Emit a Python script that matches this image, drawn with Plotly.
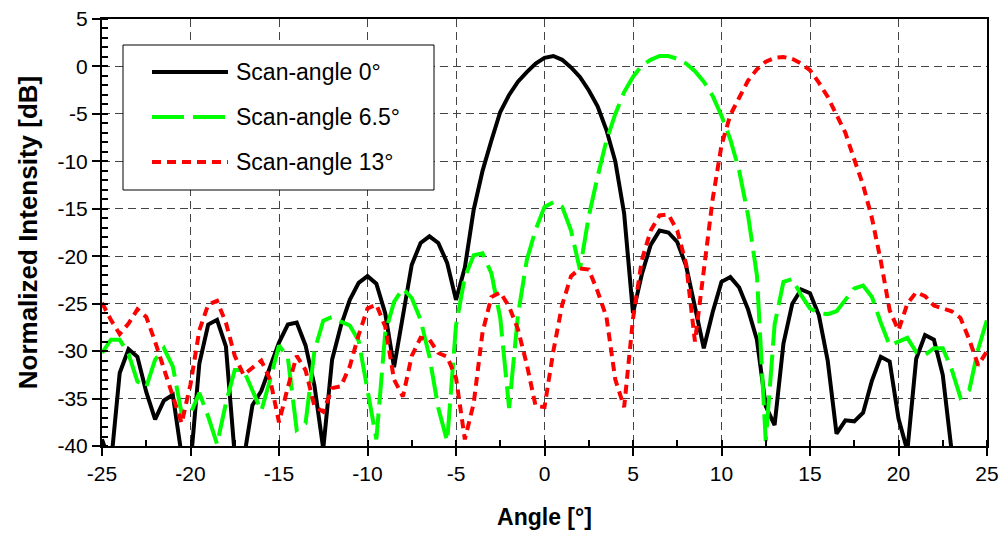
import numpy as np
import plotly.graph_objects as go

# Sampling grid of the angular scan (degrees)
angle_deg = np.arange(-25, 25.01, 0.5)

# Normalized intensity [dB] for each steering angle, one value per 0.5 deg
scan_0 = [
    -39.3, -42.0, -32.3, -29.8, -30.6, -34.3, -37.2, -35.2, -34.6, -41.0,
    -42.0, -31.3, -27.2, -26.7, -29.5, -41.0, -41.5, -35.7, -34.2, -31.6,
    -29.1, -27.2, -27.0, -29.4, -33.6, -40.3, -30.9, -27.3, -24.6, -22.8,
    -22.1, -22.9, -26.0, -31.7, -26.0, -20.9, -18.6, -17.9, -18.6, -20.7,
    -24.6, -21.2, -15.1, -11.0, -7.8, -4.8, -3.0, -1.6, -0.6, 0.3,
    0.9, 1.1, 0.7, -0.1, -1.1, -2.5, -4.2, -6.7, -10.0, -15.5,
    -26.0, -21.9, -18.8, -17.3, -17.5, -18.5, -21.0, -25.3, -29.7, -25.9,
    -22.7, -22.2, -23.3, -25.6, -28.8, -35.8, -37.8, -29.2, -25.0, -23.5,
    -23.9, -26.2, -31.0, -38.7, -37.3, -37.4, -36.5, -33.1, -30.6, -31.1,
    -37.1, -40.5, -30.8, -28.3, -28.8, -32.5, -40.5, -43.0, -43.0, -43.0,
    -43.0,
]

scan_6_5 = [
    -30.2, -28.8, -28.8, -30.3, -33.2, -33.8, -30.9, -29.7, -31.6, -36.6,
    -36.6, -34.4, -36.9, -39.8, -35.5, -32.0, -32.0, -34.2, -36.3, -33.0,
    -29.4, -30.7, -38.3, -37.6, -30.0, -26.8, -26.4, -26.9, -27.3, -28.9,
    -34.0, -39.3, -28.1, -24.8, -23.4, -24.4, -26.7, -30.6, -36.0, -39.5,
    -27.3, -22.2, -19.9, -19.7, -21.8, -26.5, -36.0, -26.2, -20.4, -17.2,
    -14.8, -14.3, -14.8, -17.3, -21.4, -15.8, -11.6, -7.8, -5.0, -2.7,
    -1.1, 0.1, 0.7, 1.1, 1.1, 0.8, 0.3, -0.5, -1.6, -3.1,
    -5.2, -7.7, -11.0, -15.7, -22.0, -39.5, -27.2, -22.7, -22.4, -24.1,
    -25.5, -26.0, -26.1, -25.8, -24.6, -23.4, -23.1, -24.3, -27.0, -29.4,
    -29.0, -28.6, -30.1, -30.4, -29.7, -29.7, -31.9, -34.9, -34.1, -29.8,
    -26.7,
]

scan_13 = [
    -24.9, -26.7, -28.2, -27.1, -25.6, -26.4, -29.0, -31.8, -34.6, -37.6,
    -33.5, -27.8, -25.1, -24.7, -27.0, -30.5, -32.5, -31.8, -31.0, -33.0,
    -37.5, -33.8, -30.5, -32.0, -35.8, -36.4, -33.9, -33.7, -31.6, -28.3,
    -25.5, -25.1, -27.4, -33.0, -34.8, -30.5, -28.6, -28.8, -30.2, -30.6,
    -32.8, -39.3, -35.5, -28.0, -24.3, -23.8, -25.3, -27.7, -31.4, -35.8,
    -35.9, -30.0, -25.1, -22.1, -21.3, -21.4, -23.7, -26.4, -33.0, -35.9,
    -26.6, -20.4, -17.3, -15.7, -15.6, -17.3, -20.8, -29.0, -21.4, -14.0,
    -8.3, -5.1, -3.3, -1.5, -0.3, 0.5, 0.9, 1.0, 0.8, 0.3,
    -0.4, -1.7, -3.2, -5.0, -7.0, -9.8, -12.5, -16.0, -20.5, -25.7,
    -27.8, -25.0, -23.8, -24.2, -25.2, -25.5, -25.8, -26.5, -28.8, -31.5,
    -30.0,
]

series_names = ["Scan-angle 0°", "Scan-angle 6.5°", "Scan-angle 13°"]
series_values = [scan_0, scan_6_5, scan_13]
series_colors = ["#000000", "#00FF00", "#FF0000"]
series_dashes = ["solid", "32px,9px", "9px,6px"]

x_ticks = list(range(-25, 26, 5))
x_tick_labels = [str(v) for v in x_ticks]
y_ticks = list(range(-40, 6, 5))
y_tick_labels = [str(v) for v in y_ticks]

FONT = "Liberation Sans, Arial, sans-serif"
W, H = 1001, 535
ML, MR, MT, MB = 102, 14, 19, 89

fig = go.Figure()
for name, vals, col, dash in zip(series_names, series_values, series_colors, series_dashes):
    fig.add_trace(go.Scatter(
        x=angle_deg, y=vals, mode="lines", name=name,
        line=dict(color=col, width=4, dash=dash),
    ))


# Legend box drawn in pixel space of the plotting area
def px_x(px):
    return (px - ML) / (W - ML - MR)


def px_y(py):
    return (H - MB - py) / (H - MT - MB)


shapes = [dict(type="rect", xref="paper", yref="paper",
               x0=px_x(123), x1=px_x(434), y0=px_y(190), y1=px_y(45),
               line=dict(color="black", width=1), fillcolor="white", layer="above")]
annotations = []
row_y = [72, 117, 162]
for name, col, dash, ry in zip(series_names, series_colors, series_dashes, row_y):
    shapes.append(dict(type="line", xref="paper", yref="paper",
                       x0=px_x(152), x1=px_x(228), y0=px_y(ry), y1=px_y(ry),
                       line=dict(color=col, width=4, dash=dash), layer="above"))
    annotations.append(dict(xref="paper", yref="paper", x=px_x(234), y=px_y(ry),
                            xanchor="left", yanchor="middle", showarrow=False,
                            text=name, font=dict(family=FONT, size=23, color="black")))

fig.update_layout(
    width=W, height=H,
    margin=dict(l=ML, r=MR, t=MT, b=MB, autoexpand=False),
    paper_bgcolor="white", plot_bgcolor="white",
    showlegend=False,
    font=dict(family=FONT, color="black"),
    shapes=shapes, annotations=annotations,
)

axis_common = dict(
    tickmode="array", ticks="outside", ticklen=8, tickwidth=1.5, tickcolor="black",
    showline=True, linewidth=2, linecolor="black", mirror=True,
    showgrid=True, gridcolor="#444444", gridwidth=1, griddash="8px,5px",
    zeroline=False, automargin=False,
)

fig.update_xaxes(
    range=[-25, 25], tickvals=x_ticks, ticktext=x_tick_labels,
    tickfont=dict(family=FONT, size=21),
    minor=dict(tick0=0, dtick=2.5, ticks="inside", ticklen=6, tickcolor="black", showgrid=False),
    title=dict(text="<b>Angle [°]</b>", font=dict(family=FONT, size=23), standoff=25),
    **axis_common,
)
fig.update_yaxes(
    range=[-40, 5], tickvals=y_ticks, ticktext=y_tick_labels,
    tickfont=dict(family=FONT, size=21),
    minor=dict(tick0=0, dtick=1, ticks="inside", ticklen=6, tickcolor="black", showgrid=False),
    title=dict(text="<b>Normalized Intensity [dB]</b>", font=dict(family=FONT, size=26), standoff=12),
    **axis_common,
)

fig.write_html("out.html")
